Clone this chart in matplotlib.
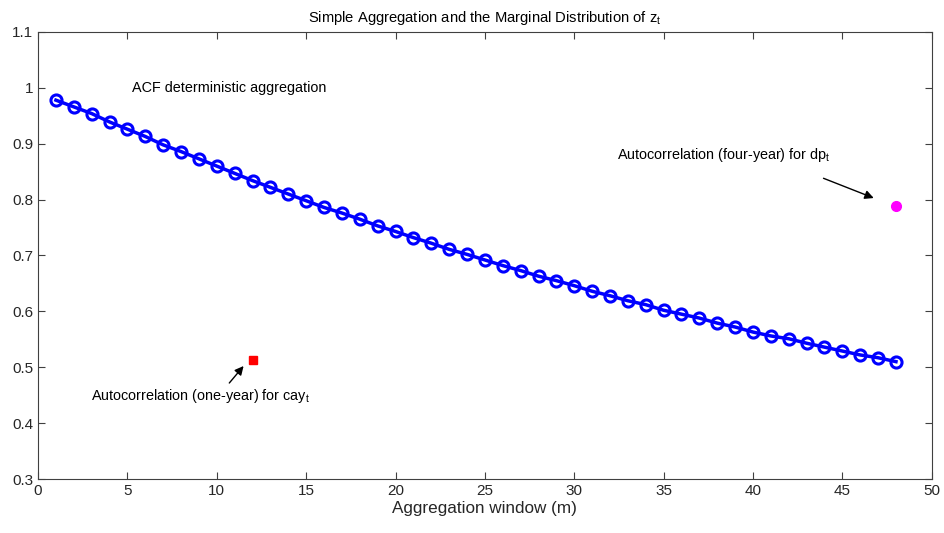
import numpy as np
import matplotlib.pyplot as plt
from matplotlib.ticker import FormatStrFormatter

plt.rcParams['font.family'] = ['Liberation Sans', 'DejaVu Sans']
plt.rcParams['mathtext.default'] = 'regular'

# ACF of the aggregated series, m = 1..48
window = list(range(1, 49))
acf = [0.978, 0.966, 0.954, 0.939, 0.926, 0.913, 0.898, 0.886, 0.873, 0.860,
       0.847, 0.834, 0.822, 0.810, 0.798, 0.786, 0.776, 0.765, 0.753, 0.743,
       0.732, 0.722, 0.711, 0.702, 0.692, 0.682, 0.673, 0.663, 0.655, 0.646,
       0.636, 0.628, 0.619, 0.612, 0.602, 0.595, 0.588, 0.579, 0.572, 0.563,
       0.556, 0.551, 0.543, 0.536, 0.529, 0.522, 0.517, 0.510]

cay_x, cay_y = 12, 0.513
dp_x, dp_y = 48, 0.789

fig = plt.figure(figsize=(9.44, 5.33), dpi=100)
ax = fig.add_axes([0.0403, 0.1013, 0.9467, 0.8387])

ax.plot(window, acf, color='#0000ff', lw=2.5, marker='o', ms=8,
        mfc='none', mec='#0000ff', mew=2.2)
ax.plot(cay_x, cay_y, 's', color='#ff0000', ms=6)
ax.plot(dp_x, dp_y, 'o', color='#ff00ff', ms=7)

arrow = dict(arrowstyle='-|>', color='black', lw=1, mutation_scale=13)
ax.text(5.26, 1.0, 'ACF deterministic aggregation', fontsize=10.4,
        va='center', ha='left')
ax.annotate('', xy=(46.9, 0.801), xytext=(43.8, 0.840), arrowprops=arrow)
ax.text(32.4, 0.880, 'Autocorrelation (four-year) for dp$_{t}$',
        fontsize=10.4, va='center', ha='left')
ax.annotate('', xy=(11.6, 0.506), xytext=(10.6, 0.468), arrowprops=arrow)
ax.text(2.96, 0.448, 'Autocorrelation (one-year) for cay$_{t}$',
        fontsize=10.4, va='center', ha='left')

ax.set_xlim(0, 50)
ax.set_ylim(0.3, 1.1)
ax.set_xticks(np.arange(0, 51, 5))
ax.set_yticks(np.arange(0.3, 1.11, 0.1))
ax.yaxis.set_major_formatter(FormatStrFormatter('%g'))
ax.tick_params(direction='in', top=True, right=True, labelsize=11,
               length=5, color='#404040', labelcolor='#262626')
for s in ax.spines.values():
    s.set_color('#404040')
    s.set_linewidth(0.8)

ax.set_xlabel('Aggregation window (m)', fontsize=12.3, color='#262626',
              labelpad=2)
ax.set_title('Simple Aggregation and the Marginal Distribution of z$_{t}$',
             fontsize=10.6, pad=7)

fig.savefig('out.png', dpi=100)
